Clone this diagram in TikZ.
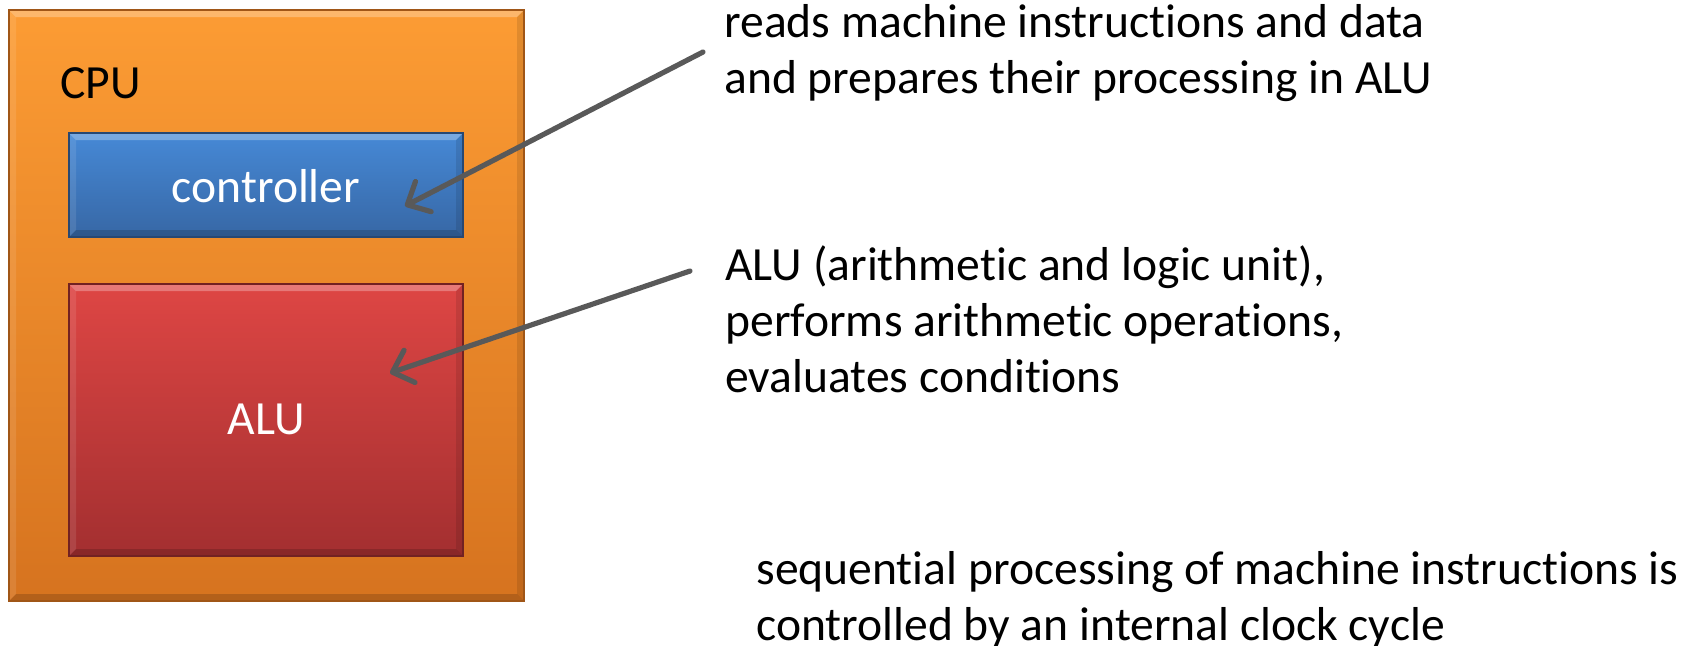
\documentclass[tikz,border=0pt]{standalone}
\usepackage{fontspec}
\setmainfont{Carlito}[Ligatures=NoCommon]
\usetikzlibrary{arrows.meta,calc}

\definecolor{cpuTop}{HTML}{FC9C34}
\definecolor{cpuBot}{HTML}{D6731F}
\definecolor{ctlTop}{HTML}{4689D6}
\definecolor{ctlBot}{HTML}{3767A5}
\definecolor{aluTop}{HTML}{DE4644}
\definecolor{aluBot}{HTML}{A32F30}
\definecolor{pointer}{HTML}{595959}

\begin{document}
\begin{tikzpicture}[x=0.5pt,y=-0.5pt,
  % bevelled, vertically shaded block
  block/.style={rectangle, inner sep=0pt, line width=0.6pt,
    path picture={
      \fill[white,opacity=0.28]
        (path picture bounding box.north west) -- (path picture bounding box.north east)
        -- ($(path picture bounding box.north east)+(-3.5pt,-3.5pt)$)
        -- ($(path picture bounding box.north west)+(3.5pt,-3.5pt)$) -- cycle;
      \fill[white,opacity=0.10]
        (path picture bounding box.north west) -- ($(path picture bounding box.north west)+(3.5pt,-3.5pt)$)
        -- ($(path picture bounding box.south west)+(3.5pt,3.5pt)$)
        -- (path picture bounding box.south west) -- cycle;
      \fill[black,opacity=0.16]
        (path picture bounding box.south west) -- (path picture bounding box.south east)
        -- ($(path picture bounding box.south east)+(-3.5pt,3.5pt)$)
        -- ($(path picture bounding box.south west)+(3.5pt,3.5pt)$) -- cycle;
      \fill[black,opacity=0.10]
        (path picture bounding box.north east) -- ($(path picture bounding box.north east)+(-3.5pt,-3.5pt)$)
        -- ($(path picture bounding box.south east)+(-3.5pt,3.5pt)$)
        -- (path picture bounding box.south east) -- cycle;
    }},
  label text/.style={font=\fontsize{23.8}{28}\selectfont, inner sep=0pt},
  % multi-line notes are anchored at the baseline of their last line
  note/.style={font=\fontsize{23.8}{28}\selectfont, align=left, anchor=base west, inner sep=0pt},
  pointer arrow/.style={draw=pointer, line width=2.6pt, line cap=round,
    -{Straight Barb[length=9pt,width=17pt,round]}}
]
\useasboundingbox (0,0) rectangle (1701,645);

% processor and its two units
\node[block, draw=cpuBot!75!black, top color=cpuTop, bottom color=cpuBot,
      minimum width=257.5pt, minimum height=295.5pt] (cpu) at (266.5,305.5) {};
\node[block, draw=ctlBot!70!black, top color=ctlTop, bottom color=ctlBot,
      minimum width=197pt, minimum height=52pt] (ctl) at (266,185) {};
\node[block, draw=aluBot!70!black, top color=aluTop, bottom color=aluBot,
      minimum width=197pt, minimum height=136pt] (alu) at (266,420) {};

\node[label text, anchor=base west] (cpuname) at (60,98) {CPU};
\node[label text, anchor=base, text=white] (ctlname) at (266,202) {controller};
\node[label text, anchor=base, text=white] (aluname) at (266,434) {ALU};

% explanations
\node[note] (ctlnote) at (724,93)
  {reads machine instructions and data\\and prepares their processing in ALU};
\node[note] (alunote) at (725,392)
  {ALU (arithmetic and logic unit),\\performs arithmetic operations,\\evaluates conditions};
\node[note] (clocknote) at (756,640)
  {sequential processing of machine instructions is\\controlled by an internal clock cycle};

% pointers from the explanations into the units
\coordinate (ctlsrc) at (703,52);
\coordinate (ctltip) at (405,206);
\coordinate (alusrc) at (690,271);
\coordinate (alutip) at (390,373);
\draw[pointer arrow] (ctlsrc) -- (ctltip);
\draw[pointer arrow] (alusrc) -- (alutip);
\end{tikzpicture}
\end{document}
